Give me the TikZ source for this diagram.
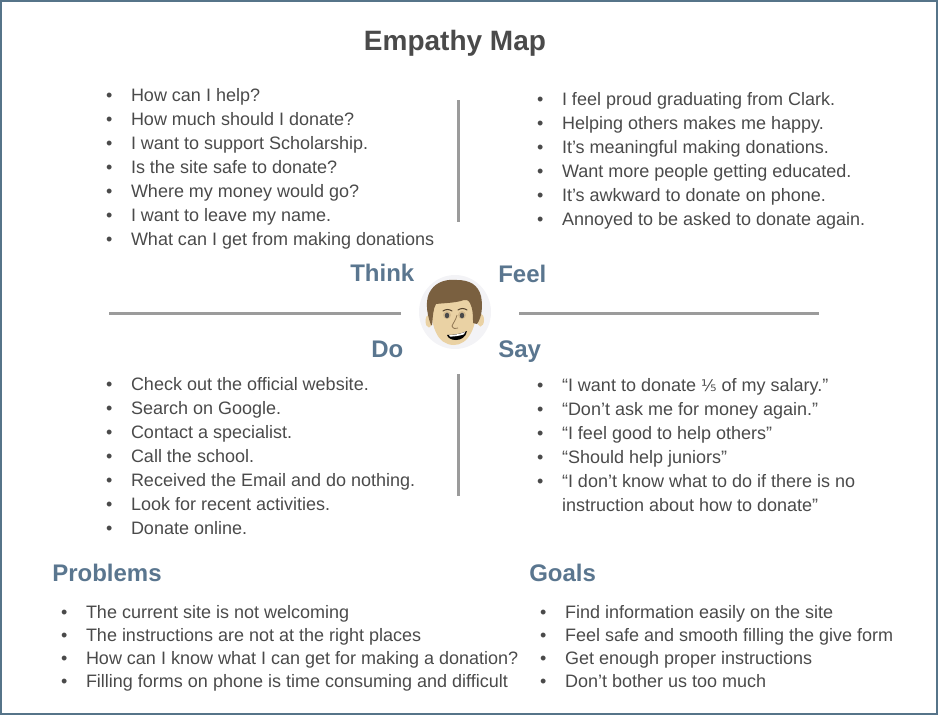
\documentclass[tikz,border=0pt]{standalone}
\usepackage{fontspec}
\setmainfont{Liberation Sans}
\newfontfamily\fracfont{DejaVu Sans}
\definecolor{txt}{HTML}{4A4A4A}
\definecolor{head}{HTML}{5A768F}
\definecolor{rule}{HTML}{9B9B9B}
\definecolor{frame}{HTML}{567489}
\definecolor{hair}{HTML}{7A6040}
\definecolor{skin}{HTML}{EAD2A4}
\definecolor{halo}{HTML}{F3F3F6}
\tikzset{
  x=0.75pt,y=-0.75pt,
  item/.style={anchor=base west,inner sep=0pt,outer sep=0pt,font=\fontsize{13.5pt}{16pt}\selectfont,text=txt},
  heading/.style={anchor=base west,inner sep=0pt,font=\bfseries\fontsize{18pt}{20pt}\selectfont,text=head},
  titletext/.style={anchor=base,inner sep=0pt,font=\bfseries\fontsize{21pt}{24pt}\selectfont,text=txt},
  divider/.style={draw=rule,line width=2.25pt},
}
\newcommand{\blist}[4]{% bullet x, text x, name prefix, list y/text
  \foreach \yy/\tt [count=\i] in {#4} {
    \node[item] (#3b\i) at (#1,\yy) {•};
    \node[item] (#3t\i) at (#2,\yy) {\tt};
  }
}
\begin{document}
\begin{tikzpicture}
\useasboundingbox (0,0) rectangle (938,715);
\draw[frame,line width=1.6pt] (1,1) rectangle (937,714);
\node[titletext] (title) at (455,50) {Empathy Map};

\blist{106}{131}{th}{101/{How can I help?},125/{How much should I donate?},149/{I want to support Scholarship.},173/{Is the site safe to donate?},197/{Where my money would go?},221/{I want to leave my name.},245/{What can I get from making donations}}
\blist{537}{562}{fe}{105/{I feel proud graduating from Clark.},129/{Helping others makes me happy.},153/{It’s meaningful making donations.},177/{Want more people getting educated.},201/{It’s awkward to donate on phone.},225/{Annoyed to be asked to donate again.}}
\blist{106}{131}{do}{390/{Check out the official website.},414/{Search on Google.},438/{Contact a specialist.},462/{Call the school.},486/{Received the Email and do nothing.},510/{Look for recent activities.},534/{Donate online.}}
\blist{537}{562}{sa}{391/{“I want to donate {\fracfont\fontsize{12pt}{13pt}\selectfont ⅕} of my salary.”},415/{“Don’t ask me for money again.”},439/{“I feel good to help others”},463/{“Should help juniors”},487/{“I don’t know what to do if there is no}}
\node[item] (sat6) at (562,511) {instruction about how to donate”};

\blist{61}{86}{pr}{618/{The current site is not welcoming},641/{The instructions are not at the right places},664/{How can I know what I can get for making a donation?},687/{Filling forms on phone is time consuming and difficult}}
\blist{540}{565}{go}{618/{Find information easily on the site},641/{Feel safe and smooth filling the give form},664/{Get enough proper instructions},687/{Don’t bother us too much}}

\node[heading] (think) at (350,281) {Think};
\node[heading] (feel) at (498,282) {Feel};
\node[heading] (do) at (371,357) {Do};
\node[heading] (say) at (498,357) {Say};
\node[heading] (problems) at (52,581) {Problems};
\node[heading] (goals) at (529,581) {Goals};

\draw[divider] (109,313) -- (401,313);
\draw[divider] (519,313) -- (819,313);
\draw[divider] (458.5,100) -- (458.5,222);
\draw[divider] (458.5,374) -- (458.5,496);

% face
\fill[halo] (455,312) ellipse (36 and 37);
\fill[skin] (429,321) ellipse (3.5 and 6.5);
\fill[skin] (480.5,320) ellipse (3.5 and 6.5);
\fill[skin] (431,298) .. controls (430,326) and (437,345) .. (454,345) .. controls (468,345) and (478,328) .. (477,298) -- cycle;
\fill[hair] (431,325) .. controls (426,312) and (425,298) .. (431,290) .. controls (437,281) and (448,279) .. (457,280) .. controls (470,280) and (478,285) .. (481,296) .. controls (483,306) and (482,317) .. (477,324) -- (473,323) .. controls (473,315) and (473,309) .. (470,303) .. controls (468,300) and (466,299) .. (464,300) .. controls (456,303) and (444,303) .. (436,304) .. controls (433,309) and (433,316) .. (432,325) -- cycle;
\fill[skin!80!hair] (447,315) ellipse (4 and 4);
\fill[skin!80!hair] (462,315) ellipse (4 and 4);
\draw[hair!70!black,line width=0.8pt,line cap=round] (443,311) .. controls (446,309) and (449,309) .. (452,311);
\draw[hair!70!black,line width=0.8pt,line cap=round] (458,310) .. controls (461,308) and (464,308) .. (467,310);
\fill[txt] (447,315.5) ellipse (2.2 and 2.8);
\fill[txt] (462,315.5) ellipse (2.2 and 2.8);
\draw[hair!80!skin,line width=0.6pt] (457,315) .. controls (456,320) and (453,323) .. (452,326) .. controls (453,329) and (456,329) .. (458,328);
\fill[black] (447,335) .. controls (454,335) and (461,334) .. (467,331) .. controls (466,337) and (461,340) .. (456,340) .. controls (451,340) and (448,338) .. (447,335) -- cycle;
\fill[white] (449,335.3) .. controls (454,335) and (460,334) .. (465,332) -- (464,334.3) .. controls (460,335.8) and (454,336.6) .. (450,336.6) -- cycle;
\end{tikzpicture}
\end{document}
